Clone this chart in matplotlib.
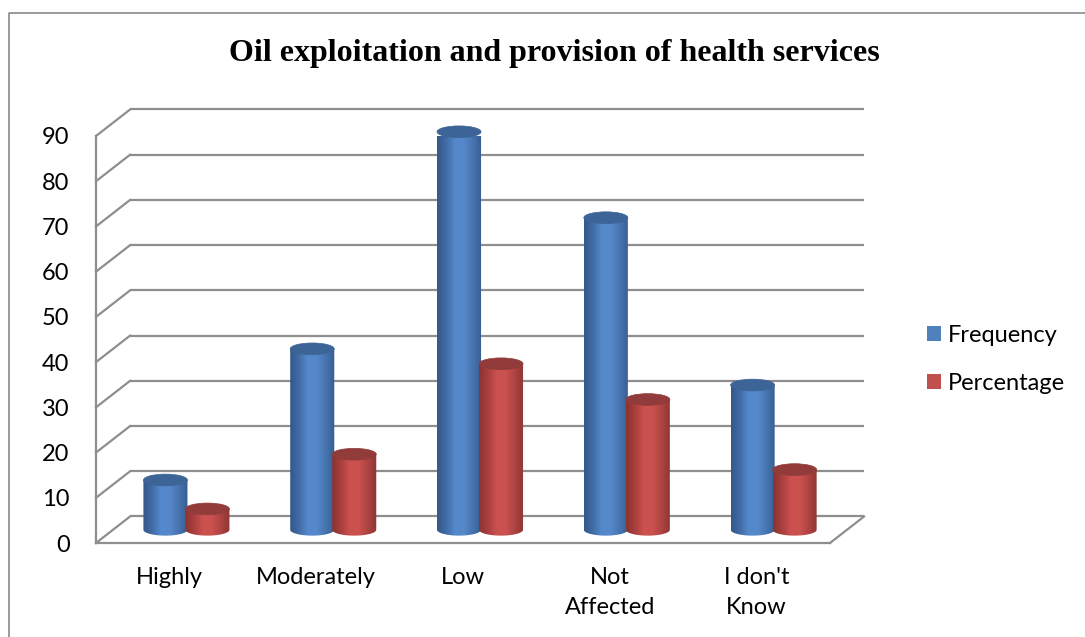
import numpy as np
import matplotlib
matplotlib.use("Agg")
import matplotlib.pyplot as plt
from matplotlib.patches import Polygon, Ellipse, Patch
from matplotlib.colors import LinearSegmentedColormap
from matplotlib.lines import Line2D

categories = ["Highly", "Moderately", "Low", "Not\nAffected", "I don't\nKnow"]
frequency = [11, 40, 88, 69, 32]
percentage = [4.6, 16.7, 36.7, 28.8, 13.3]
series_names = ["Frequency", "Percentage"]
yticks = list(range(0, 100, 10))

# 3d look: depth offset of the back wall, in data units
DX, DY = 0.232, 5.86
BAR_W = 0.30
ELL_H = 2.6
GRID = "#8e8e8e"

blue_cm = LinearSegmentedColormap.from_list(
    "blue", ["#33578a", "#416ca6", "#5489cc", "#5588ca", "#4774b0", "#375d91"])
red_cm = LinearSegmentedColormap.from_list(
    "red", ["#8a3331", "#a8403e", "#cc524f", "#ca514e", "#ad4341", "#8d3634"])
styles = [(blue_cm, "#3c6496", "#4f81bd"), (red_cm, "#913b3a", "#c0504d")]

fig = plt.figure(figsize=(10.85, 6.37), dpi=100)
ax = fig.add_axes([96 / 1085, 94 / 637, 734 / 1085, 407 / 637])
ax.set_xlim(0, len(categories))
ax.set_ylim(0, 90)

# walls: back gridlines plus the diagonals on the side wall
for v in yticks:
    ax.plot([DX, len(categories) + DX], [v + DY, v + DY], color=GRID, lw=1.6,
            clip_on=False, solid_capstyle="butt", zorder=1)
    ax.plot([0, DX], [v, v + DY], color=GRID, lw=1.6, clip_on=False, zorder=1)
ax.plot([len(categories), len(categories) + DX], [0, DY], color=GRID, lw=1.6,
        clip_on=False, zorder=1)

for sp in ["top", "right"]:
    ax.spines[sp].set_visible(False)
for sp in ["left", "bottom"]:
    ax.spines[sp].set_color(GRID)
    ax.spines[sp].set_linewidth(1.6)
ax.set_facecolor("none")

grad = np.linspace(0, 1, 256).reshape(1, -1)


def cylinder(cx, value, cmap, top_color):
    r = BAR_W / 2
    base = DY / 2
    top = base + value
    th = np.linspace(np.pi, 2 * np.pi, 60)
    pts = np.column_stack([cx + r * np.cos(th), base + ELL_H / 2 * np.sin(th)])
    pts = np.vstack([pts, [cx + r, top], [cx - r, top]])
    body = Polygon(pts, closed=True, facecolor="none", edgecolor="none",
                   transform=ax.transData)
    ax.add_patch(body)
    im = ax.imshow(grad, cmap=cmap, aspect="auto", zorder=3,
                   extent=[cx - r, cx + r, base - ELL_H, top + 1],
                   interpolation="bilinear")
    im.set_clip_path(body)
    im.set_clip_box(None)
    ax.add_patch(Ellipse((cx, top), 2 * r, ELL_H, facecolor=top_color,
                         edgecolor=top_color, lw=0.5, zorder=4, clip_on=False))


x = np.arange(len(categories))
for i in x:
    for k, vals in enumerate([frequency, percentage]):
        cx = i + 0.5 + DX / 2 + (k - 0.5) * (BAR_W - 0.014)
        cylinder(cx, vals[i], styles[k][0], styles[k][1])

ax.set_xlim(0, len(categories))
ax.set_ylim(0, 90)

ax.set_yticks(yticks)
ax.set_yticklabels([str(t) for t in yticks], fontsize=17, family="Lato")
ax.set_xticks(x + 0.5)
ax.set_xticklabels(categories, fontsize=17, family="Lato", linespacing=1.55,
                   va="top")
ax.tick_params(axis="y", length=0, pad=19)
ax.tick_params(axis="x", length=0, pad=17)

handles = [Patch(facecolor=s[2], edgecolor="none") for s in styles]
fig.legend(handles, series_names, loc="center left",
           bbox_to_anchor=(927 / 1085, 1 - 359.5 / 637), frameon=False,
           prop={"family": "Lato", "size": 17}, handlelength=0.6,
           handleheight=0.6, handletextpad=0.3, labelspacing=1.15,
           borderpad=0, borderaxespad=0)

fig.text(554 / 1085, 1 - 53 / 637, "Oil exploitation and provision of health services",
         ha="center", va="center", family="Liberation Serif", weight="bold",
         fontsize=23)

# chart area border (left and top edges)
fig.add_artist(Line2D([9 / 1085, 9 / 1085, 1.0], [0.0, 1 - 13 / 637, 1 - 13 / 637],
                      color="#8a8a8a", lw=1.2))

fig.savefig("out.png", dpi=100)
